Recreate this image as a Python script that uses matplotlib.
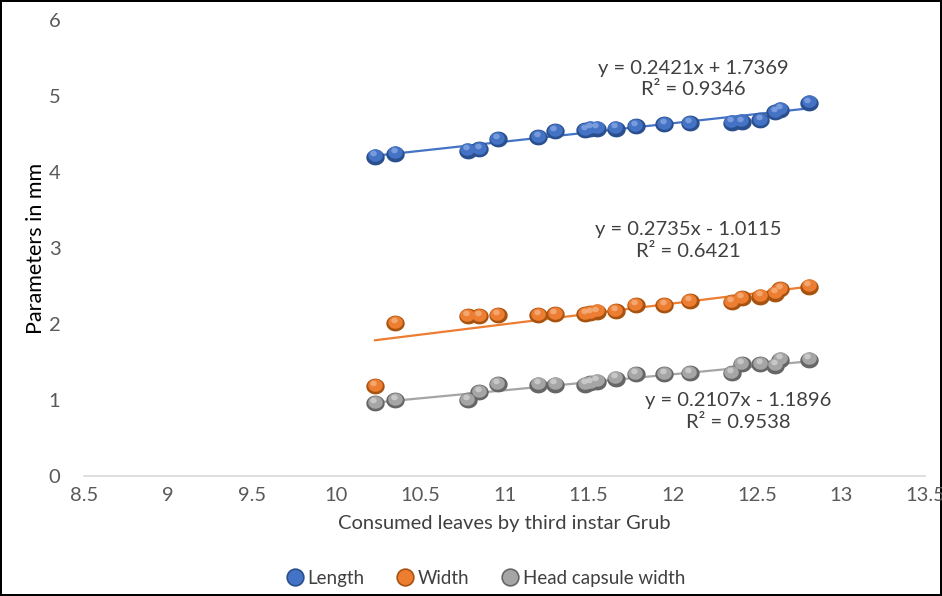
import numpy as np
import matplotlib.pyplot as plt
from matplotlib.path import Path
from matplotlib.lines import Line2D
from matplotlib.transforms import offset_copy

# Consumed leaves (x) and body parameters in mm
consumed = [10.23, 10.35, 10.78, 10.85, 10.96, 11.20, 11.30, 11.48, 11.51, 11.55,
            11.66, 11.78, 11.95, 12.10, 12.35, 12.41, 12.52, 12.61, 12.64, 12.81]
length = [4.20, 4.24, 4.28, 4.30, 4.43, 4.46, 4.54, 4.55, 4.57, 4.57,
          4.57, 4.60, 4.63, 4.64, 4.65, 4.66, 4.68, 4.79, 4.82, 4.91]
width = [1.18, 2.01, 2.10, 2.10, 2.12, 2.12, 2.13, 2.13, 2.14, 2.16,
         2.17, 2.25, 2.25, 2.30, 2.29, 2.34, 2.36, 2.40, 2.46, 2.49]
head_capsule = [0.96, 1.00, 1.00, 1.10, 1.21, 1.20, 1.20, 1.20, 1.22, 1.24,
                1.28, 1.34, 1.34, 1.35, 1.35, 1.47, 1.47, 1.45, 1.53, 1.53]

# trendline coefficients (slope, intercept) and R²
fits = {
    'Length': (0.2421, 1.7369, 0.9346),
    'Width': (0.2735, -1.0115, 0.6421),
    'Head capsule width': (0.2107, -1.1896, 0.9538),
}

series = [
    ('Length', length, ('#2A4F8F', '#4472C4', '#8FAEE6')),
    ('Width', width, ('#A8520F', '#ED7D31', '#F6B98C')),
    ('Head capsule width', head_capsule, ('#666666', '#A5A5A5', '#D6D6D6')),
]

# equation label positions (data coords)
label_pos = {
    'Length': (12.12, 5.22),
    'Width': (12.09, 3.10),
    'Head capsule width': (12.39, 0.85),
}

plt.rcParams['font.family'] = ['Lato', 'DejaVu Sans']

fig = plt.figure(figsize=(9.42, 5.96), dpi=100)
fig.patch.set_edgecolor('black')
fig.patch.set_linewidth(1.5)
ax = fig.add_axes([0.0892, 0.2013, 0.8928, 0.7651])

# slightly flattened ball marker
t = np.linspace(0, 2 * np.pi, 60)
ball = Path(np.column_stack([np.cos(t), 0.86 * np.sin(t)]), closed=True)

x = np.array(consumed)
xs = np.array([x.min(), x.max()])

for name, ys, (dark, mid, light) in series:
    a, b, r2 = fits[name]
    ax.plot(xs, a * xs + b, color=mid, lw=1.6, zorder=2)

    # shaded balls: dark rim, main body, highlight
    ax.scatter(x, ys, s=175, marker=ball, color=dark, lw=0, zorder=3)
    body = offset_copy(ax.transData, fig=fig, x=-0.3, y=1.0, units='points')
    ax.scatter(x, ys, s=110, marker=ball, color=mid, lw=0, zorder=4, transform=body)
    shine = offset_copy(ax.transData, fig=fig, x=-1.2, y=2.4, units='points')
    ax.scatter(x, ys, s=22, marker=ball, color=light, lw=0, zorder=5,
               transform=shine, alpha=0.7)

    sign = '+' if b >= 0 else '-'
    eq = f'y = {a:.4f}x {sign} {abs(b):.4f}\nR² = {r2:.4f}'
    ax.text(*label_pos[name], eq, ha='center', va='center', fontsize=14.5,
            color='#404040', linespacing=1.3, zorder=6)

ax.set_xlim(8.5, 13.5)
ax.set_ylim(0, 6)
ax.set_xticks(np.arange(8.5, 13.51, 0.5))
ax.set_xticklabels(['8.5', '9', '9.5', '10', '10.5', '11', '11.5', '12', '12.5', '13', '13.5'])
ax.set_yticks(range(0, 7))

for side in ['top', 'right', 'left']:
    ax.spines[side].set_visible(False)
ax.spines['bottom'].set_color('#D9D9D9')
ax.spines['bottom'].set_linewidth(1.2)
ax.tick_params(length=0, labelsize=14.5, labelcolor='#595959')
ax.tick_params(axis='x', pad=8)
ax.tick_params(axis='y', pad=17)

ax.set_xlabel('Consumed leaves by third instar Grub', fontsize=14.5, color='#404040', labelpad=8)
ax.set_ylabel('Parameters in mm', fontsize=15.5, color='#000000', labelpad=2)

handles = [Line2D([], [], ls='none', marker='o', ms=12, markerfacecolor=mid,
                  markeredgecolor=dark, markeredgewidth=1.2, label=name)
           for name, _, (dark, mid, light) in series]
fig.legend(handles=handles, loc='center', bbox_to_anchor=(0.51, 0.03), ncol=3,
           frameon=False, fontsize=13.5, handletextpad=-0.35, columnspacing=1.2,
           labelcolor='#404040')

fig.savefig('out.png', dpi=100)
